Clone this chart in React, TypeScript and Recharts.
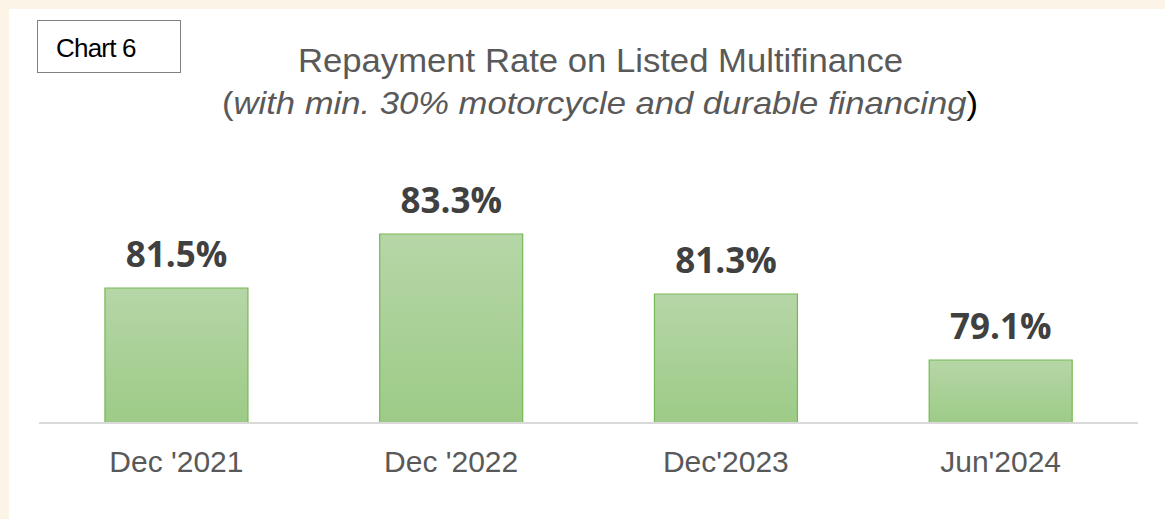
import { BarChart, Bar, XAxis, YAxis, LabelList } from "recharts"

const periods = ["Dec '2021", "Dec '2022", "Dec'2023", "Jun'2024"]
const repaymentRate = [81.5, 83.3, 81.3, 79.1]

const data = periods.map((period, i) => ({ period, rate: repaymentRate[i] }))

const renderValue = (props: any) => {
  const { x, y, width, value } = props
  return (
    <text
      x={x + width / 2}
      y={y - 21}
      textAnchor="middle"
      fill="#404040"
      fontFamily="'Open Sans', sans-serif"
      fontWeight={700}
      fontSize={35}
    >
      {value.toFixed(1)}%
    </text>
  )
}

export default function App() {
  return (
    <div
      style={{
        position: "fixed",
        left: 0,
        top: 0,
        width: 1165,
        height: 519,
        background: "#fdf4e8",
        overflow: "hidden",
      }}
    >
      <div
        style={{
          position: "absolute",
          left: 9,
          top: 9,
          right: 0,
          bottom: 0,
          background: "#ffffff",
        }}
      />
      <div
        style={{
          position: "absolute",
          left: 37,
          top: 20,
          width: 144,
          height: 53,
          border: "1.5px solid #808080",
          boxSizing: "border-box",
          background: "#fff",
        }}
      />
      <div
        style={{
          position: "absolute",
          left: 56,
          top: 33,
          fontFamily: "'Liberation Sans', Arial, sans-serif",
          fontSize: 26,
          letterSpacing: -0.8,
          color: "#000",
          lineHeight: "30px",
        }}
      >
        Chart 6
      </div>
      <svg
        width={1165}
        height={140}
        style={{ position: "absolute", left: 0, top: 0 }}
      >
        <text
          x={298}
          y={72}
          textLength={605}
          lengthAdjust="spacingAndGlyphs"
          fill="#595959"
          fontFamily="'Liberation Sans', Arial, sans-serif"
          fontSize={33}
        >
          Repayment Rate on Listed Multifinance
        </text>
        <text
          x={222}
          y={114}
          textLength={756}
          lengthAdjust="spacingAndGlyphs"
          fontFamily="'Liberation Sans', Arial, sans-serif"
          fontSize={32}
        >
          <tspan fill="#595959">(</tspan>
          <tspan fill="#595959" fontStyle="italic">
            with min. 30% motorcycle and durable financing
          </tspan>
          <tspan fill="#000">)</tspan>
        </text>
      </svg>
      <div style={{ position: "absolute", left: 0, top: 0 }}>
        <BarChart
          width={1165}
          height={519}
          data={data}
          margin={{ top: 213, right: 27, bottom: 0, left: 39 }}
          barCategoryGap="24%"
        >
          <defs>
            <linearGradient id="barFill" x1="0" y1="0" x2="0" y2="1">
              <stop offset="0%" stopColor="#b6d6a7" />
              <stop offset="100%" stopColor="#9dcb87" />
            </linearGradient>
          </defs>
          <XAxis
            dataKey="period"
            axisLine={{ stroke: "#d9d9d9", strokeWidth: 2 }}
            tickLine={false}
            tick={{
              fill: "#595959",
              fontSize: 30,
              fontFamily: "'Liberation Sans', Arial, sans-serif",
            }}
            tickMargin={22}
            height={96}
            interval={0}
          />
          <YAxis hide domain={[77, 84]} allowDataOverflow />
          <Bar
            dataKey="rate"
            fill="url(#barFill)"
            stroke="#76b852"
            strokeWidth={1.2}
            isAnimationActive={false}
          >
            <LabelList dataKey="rate" content={renderValue} />
          </Bar>
        </BarChart>
      </div>
    </div>
  )
}
